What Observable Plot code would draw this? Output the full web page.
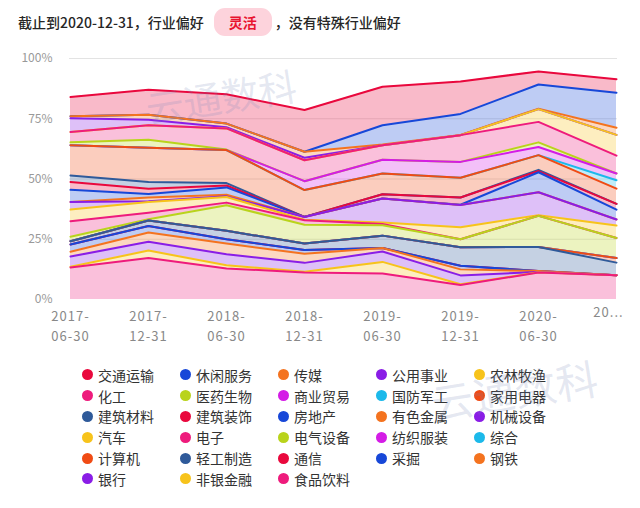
<!DOCTYPE html>
<html><head><meta charset="utf-8">
<script src="https://cdn.jsdelivr.net/npm/d3@7"></script>
<script src="https://cdn.jsdelivr.net/npm/@observablehq/plot@0.6"></script>
<style>
body{margin:0;background:#fff;font-family:"Noto Sans CJK SC","Noto Sans",sans-serif;}
#wrap{position:relative;width:640px;height:508px;overflow:hidden;}
#chart{position:absolute;left:0;top:0;}
#chart g[aria-label="x-axis tick label"] text{letter-spacing:1px;}
#title{position:absolute;left:18px;top:8px;font-size:14px;font-weight:500;color:#262626;display:flex;align-items:center;height:28px;white-space:nowrap;}
.badge{display:inline-block;background:#fdd3dc;color:#e8132f;font-weight:bold;border-radius:11px;padding:0 15px;height:28px;line-height:28px;margin:0 3px 0 10px;}
#legend{position:absolute;left:82px;top:364.5px;display:grid;grid-template-columns:repeat(5,98px);grid-auto-rows:20.8px;font-size:14px;color:#333;}
.item{display:flex;align-items:center;white-space:nowrap;}
.dot{width:11px;height:11px;border-radius:50%;margin-right:5px;flex:none;}
.wm{position:absolute;color:rgba(120,135,185,0.2);font-size:38px;transform:rotate(-9deg);pointer-events:none;white-space:nowrap;}
</style></head>
<body>
<div id="wrap">
  <div id="chart"></div>
  <div id="title">截止到2020-12-31，行业偏好<span class="badge">灵活</span>，没有特殊行业偏好</div>
  <div id="legend"></div>
  <div class="wm" style="left:145px;top:68px;">云通数科</div>
  <div class="wm" style="left:430px;top:358px;font-size:42px;">云通数科</div>
</div>
<script>
// Report dates (x categories)
const dates = ["2017-06-30","2017-12-31","2018-06-30","2018-12-31","2019-06-30","2019-12-31","2020-06-30","2020-12-31"];
// Industries in legend order
const industries = ["交通运输","休闲服务","传媒","公用事业","农林牧渔","化工","医药生物","商业贸易","国防军工","家用电器",
  "建筑材料","建筑装饰","房地产","有色金属","机械设备","汽车","电子","电气设备","纺织服装","综合",
  "计算机","轻工制造","通信","采掘","钢铁","银行","非银金融","食品饮料"];
// 11-colour cycle
const palette = ["#e9083d","#1747d8","#f4731f","#8a1de6","#f7c31b","#ee1b7c","#b9d31b","#d41ce6","#1cb9ea","#f04b14","#2f5a9a"];
// Weights (%) per date, in legend order
const w_2017_06_30 = [8.0,0,0.8,5.7,0,4.3,1.2,0,0,12.5,2.7,3.3,5.0,0,3.2,4.8,6.5,1.8,0,0,0,1.4,0,3.0,2.0,4.2,0.3,13.3];
const w_2017_12_31 = [10.3,0,2.1,2.3,0,6.0,3.3,0,0,14.2,2.8,2.2,1.5,1.5,0.3,4.5,2.7,0.5,0,0,0,2.3,0,2.7,3.8,3.7,3.1,17.2];
const w_2018_06_30 = [12.2,0,1.5,0.5,0,8.8,0.2,0,0,13.7,1.0,0.8,3.0,0.7,0.3,2.3,1.1,10.6,0,0,0,3.5,0,1.8,4.4,4.6,1.3,12.9];
const w_2018_12_31 = [17.3,0,2.5,1.0,0,8.7,0,3.7,0,11.1,0,0,0.1,0,1.1,0.2,1.9,7.8,0,0,0,2.7,0,1.5,3.8,3.7,0.3,11.2];
const w_2019_06_30 = [16.0,8.0,0.3,0,0,6.0,0,5.7,0,8.6,0,1.8,0,0,9.9,0.7,0.5,4.3,0,0,0,5.1,0,0,1.5,4.3,4.8,10.8];
const w_2019_12_31 = [13.5,8.7,0.1,0,0,11.1,0,6.6,0,8.2,0,3.0,0.1,0,9.2,5.0,0,3.3,0,0,0,7.7,0,1.5,2.5,3.7,0.3,6.0];
const w_2020_06_30 = [5.4,10.0,0.2,0,5.3,8.5,1.9,3.4,0,6.1,0.5,0.5,8.3,0,9.5,0.3,0,12.9,0,0,0,10.0,0,0,0.4,0.1,0.1,11.2];
const w_2020_12_31 = [5.6,14.5,3.0,0,8.6,7.4,0,2.8,3.5,6.3,0,2.4,4.1,0,2.5,5.2,0,8.3,0,0,1.9,5.2,0,0,0,0,0,10.1];
const yTicks = [0,25,50,75,100];

const byDate = [w_2017_06_30,w_2017_12_31,w_2018_06_30,w_2018_12_31,w_2019_06_30,w_2019_12_31,w_2020_06_30,w_2020_12_31];
const data = [];
industries.forEach((name,i)=>dates.forEach((d,j)=>data.push({date:d, industry:name, value:byDate[j][i]})));
const colorOf = industries.map((_,i)=>palette[i%palette.length]);
const stackOrder = industries.slice().reverse();
const font = '"Noto Sans CJK SC","Noto Sans",sans-serif';
const lastDate = dates[dates.length-1];

const chart = Plot.plot({
  width:640, height:345, marginTop:58, marginBottom:46, marginLeft:69, marginRight:23,
  style:{fontFamily:font, background:"transparent", overflow:"visible"},
  x:{type:"point", domain:dates, padding:0, label:null},
  y:{domain:[0,100], label:null},
  color:{type:"ordinal", domain:industries, range:colorOf},
  marks:[
    Plot.gridY(yTicks.slice(1), {stroke:"#e3e3e3", strokeOpacity:1}),
    Plot.areaY(data, Plot.stackY({x:"date", y:"value", z:"industry", fill:"industry", fillOpacity:0.28, order:stackOrder})),
    Plot.lineY(data, Plot.stackY2({x:"date", y:"value", z:"industry", stroke:"industry", strokeWidth:2, order:stackOrder})),
    Plot.axisY(yTicks, {tickSize:0, tickPadding:17, tickFormat:d=>d+"%", fontSize:12, fill:"#999"}),
    Plot.axisX(dates.slice(0,-1), {tickSize:0, tickPadding:8, fontSize:13, fill:"#888", lineHeight:1.5,
      tickFormat:d=> d.slice(0,5)+"\n"+d.slice(5)}),
    Plot.axisX([lastDate], {tickSize:0, tickPadding:8, fontSize:13, fill:"#888", dx:-8,
      tickFormat:d=> d.slice(0,2)+"..."})
  ]
});
document.getElementById("chart").appendChild(chart);

const legend = document.getElementById("legend");
industries.forEach((name,i)=>{
  const it = document.createElement("div"); it.className="item";
  const dot = document.createElement("span"); dot.className="dot"; dot.style.background=colorOf[i];
  it.appendChild(dot); it.appendChild(document.createTextNode(name));
  legend.appendChild(it);
});
</script>
</body></html>
